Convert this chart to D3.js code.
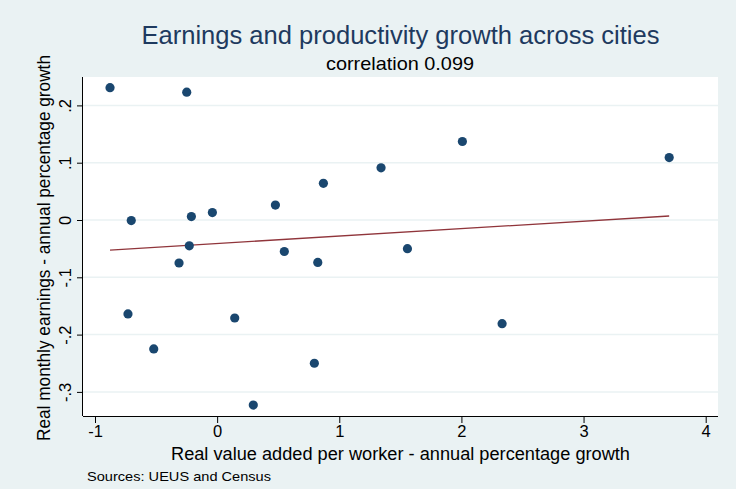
<!DOCTYPE html>
<html>
<head>
<meta charset="utf-8">
<script src="https://cdn.jsdelivr.net/npm/d3@7"></script>
<style>
  html, body { margin: 0; padding: 0; background: #EAF2F3; }
  svg { display: block; font-family: "Liberation Sans", Arial, sans-serif; }
</style>
</head>
<body>
<svg id="chart" width="736" height="489"></svg>
<script>
// ---- Data ----
const productivityGrowth = [-0.877, -0.249, -0.703, -0.211, -0.039, -0.228, -0.312, -0.730, 0.144, -0.519,
  1.342, 0.870, 0.477, 0.550, 0.824, 1.558, 2.333, 0.796, 0.296, 2.008, 3.701];
const earningsGrowth = [0.231, 0.223, -0.001, 0.006, 0.013, -0.045, -0.075, -0.164, -0.171, -0.225,
  0.091, 0.064, 0.026, -0.055, -0.074, -0.050, -0.181, -0.250, -0.323, 0.137, 0.109];
const fitX = [-0.877, 3.701];
const fitY = [-0.0524, 0.0070];
const xTicks = [-1, 0, 1, 2, 3, 4];
const xTickLabels = ["-1", "0", "1", "2", "3", "4"];
const yTicks = [0.2, 0.1, 0, -0.1, -0.2, -0.3];
const yTickLabels = [".2", ".1", "0", "-.1", "-.2", "-.3"];
const titleText = "Earnings and productivity growth across cities";
const subtitleText = "correlation 0.099";
const xTitle = "Real value added per worker - annual percentage growth";
const yTitle = "Real monthly earnings - annual percentage growth";
const noteText = "Sources: UEUS and Census";

// ---- Layout ----
const W = 736, H = 489;
const plot = { left: 83, right: 718, top: 77, bottom: 416 };
const bg = "#EAF2F3", navy = "#1A476F", maroon = "#90353B", titleColor = "#1E3A5F";

const svg = d3.select("#chart");
svg.append("rect").attr("width", W).attr("height", H).attr("fill", bg);
svg.append("rect").attr("x", plot.left).attr("y", plot.top)
  .attr("width", plot.right - plot.left).attr("height", plot.bottom - plot.top).attr("fill", "#fff");

const x = d3.scaleLinear().domain([-1, 4]).range([95, 705.7]);
const y = d3.scaleLinear().domain([-0.3, 0.2]).range([391.9, 105.4]);

// gridlines
svg.append("g").selectAll("line").data(yTicks).join("line")
  .attr("x1", plot.left).attr("x2", plot.right)
  .attr("y1", d => y(d)).attr("y2", d => y(d))
  .attr("stroke", bg).attr("stroke-width", 1.5);

// fitted line
const fit = fitX.map((d, i) => [d, fitY[i]]);
svg.append("path").datum(fit)
  .attr("d", d3.line().x(d => x(d[0])).y(d => y(d[1])))
  .attr("fill", "none").attr("stroke", maroon).attr("stroke-width", 1.3);

// points
const pts = productivityGrowth.map((d, i) => [d, earningsGrowth[i]]);
svg.append("g").selectAll("circle").data(pts).join("circle")
  .attr("cx", d => x(d[0])).attr("cy", d => y(d[1])).attr("r", 4.6)
  .attr("fill", navy);

// axes
const xAxis = d3.axisBottom(x).tickValues(xTicks).tickSize(7).tickPadding(2)
  .tickFormat((d, i) => xTickLabels[i]);
const gx = svg.append("g").attr("transform", `translate(0,${plot.bottom})`).call(xAxis);
gx.select(".domain").attr("d", `M${plot.left},0.5H${plot.right}`).attr("stroke", "#000");
gx.selectAll(".tick line").attr("stroke", "#000");
gx.selectAll(".tick text").attr("font-size", 16.5).attr("fill", "#000")
  .attr("font-family", "Liberation Sans, Arial, sans-serif");

const yAxis = d3.axisLeft(y).tickValues(yTicks).tickSize(6).tickPadding(0)
  .tickFormat((d, i) => yTickLabels[i]);
const gy = svg.append("g").attr("transform", `translate(${plot.left},0)`).call(yAxis);
gy.select(".domain").attr("d", `M-0.5,${plot.top}V${plot.bottom}`).attr("stroke", "#000");
gy.selectAll(".tick line").attr("stroke", "#000");
gy.selectAll(".tick text")
  .attr("font-size", 16.5).attr("fill", "#000")
  .attr("font-family", "Liberation Sans, Arial, sans-serif")
  .attr("x", null).attr("dy", null)
  .attr("text-anchor", "middle")
  .attr("transform", "translate(-12,0) rotate(-90)");

// titles
function fitText(sel, len) {
  return sel.attr("textLength", len).attr("lengthAdjust", "spacingAndGlyphs");
}
fitText(svg.append("text").attr("x", 400.5).attr("y", 44).attr("text-anchor", "middle")
  .attr("font-size", 25).attr("fill", titleColor).text(titleText), 518);
fitText(svg.append("text").attr("x", 400).attr("y", 70).attr("text-anchor", "middle")
  .attr("font-size", 18.5).attr("fill", "#000").text(subtitleText), 148);
fitText(svg.append("text").attr("x", 400.5).attr("y", 460).attr("text-anchor", "middle")
  .attr("font-size", 17.5).attr("fill", "#000").text(xTitle), 459);
fitText(svg.append("text").attr("transform", `translate(50,248) rotate(-90)`)
  .attr("text-anchor", "middle").attr("font-size", 17.5).attr("fill", "#000").text(yTitle), 386);
fitText(svg.append("text").attr("x", 87).attr("y", 481).attr("font-size", 13.5)
  .attr("fill", "#000").text(noteText), 184);
</script>
</body>
</html>
